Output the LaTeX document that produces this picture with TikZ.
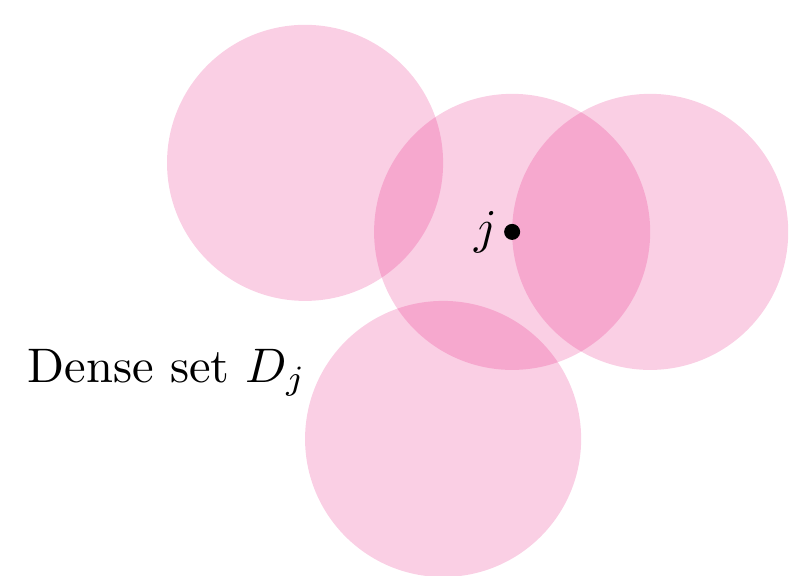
\documentclass[tikz,border=0pt]{standalone}
\usetikzlibrary{positioning}
\begin{document}
\definecolor{diskpink}{RGB}{228,0,112}
\begin{tikzpicture}[
  disk/.style={fill=diskpink, fill opacity=0.19},
  pt/.style={circle, fill=black, inner sep=0pt, minimum size=3.3pt}
]
\useasboundingbox (-3.71,-2.49) rectangle (2.02,1.68);
\fill[disk] (-1.5,0.5) circle (1);
\fill[disk] (0,0) circle (1);
\fill[disk] (1,0) circle (1);
\fill[disk] (-0.5,-1.5) circle (1);
\node[pt] (j) at (0,0) {};
\node[left=0pt of j, inner sep=1pt] (jl) {$j$};
\node (dense) at (-2.50,-1.02) {Dense set $D_j$};
\end{tikzpicture}
\end{document}
